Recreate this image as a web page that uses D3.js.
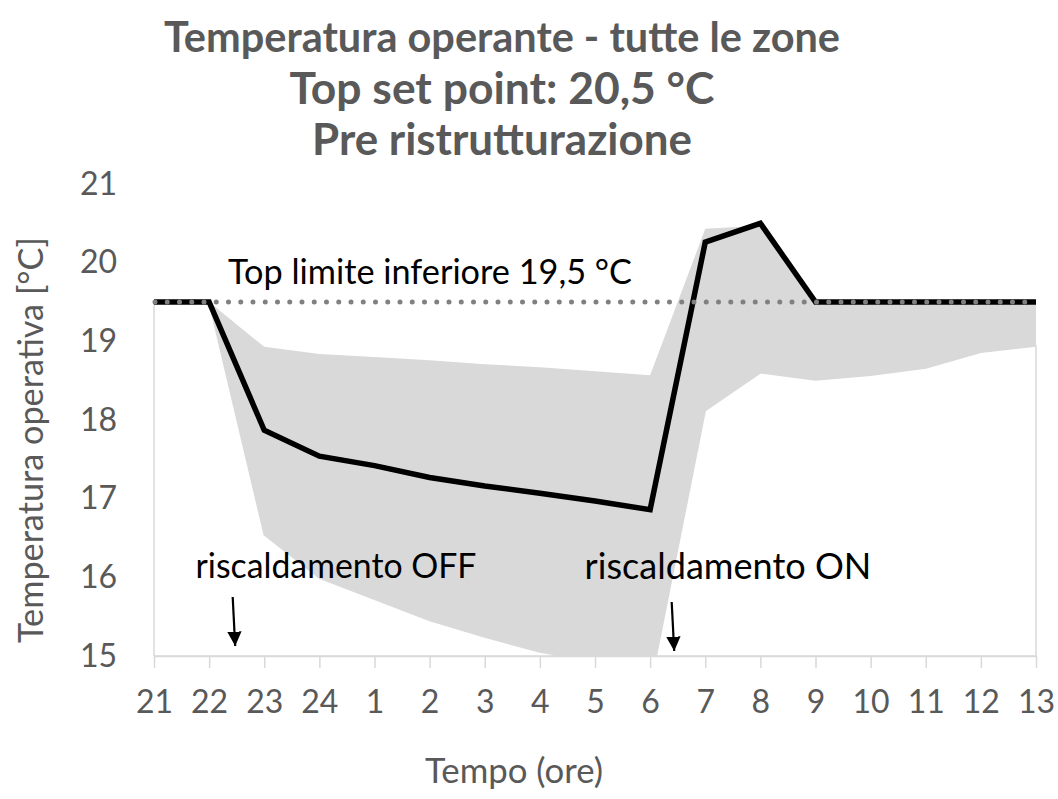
<!DOCTYPE html>
<html>
<head>
<meta charset="utf-8">
<script src="https://cdn.jsdelivr.net/npm/d3@7"></script>
<style>
  html, body { margin: 0; padding: 0; background: #fff; }
  svg { display: block; font-family: Lato, "Open Sans", sans-serif; }
</style>
</head>
<body>
<svg id="chart" width="1058" height="799"></svg>
<script>
// Hours of the night-day cycle shown on the x axis
const hours = ["21","22","23","24","1","2","3","4","5","6","7","8","9","10","11","12","13"];
// Mean operative temperature over all zones [°C]
const meanTemp = [19.5,19.5,17.87,17.54,17.42,17.27,17.16,17.07,16.97,16.86,20.26,20.5,19.5,19.5,19.5,19.5,19.5];
// Upper envelope (warmest zone) [°C]
const maxTemp = [19.5,19.5,18.93,18.84,18.80,18.76,18.71,18.67,18.62,18.57,20.43,20.47,19.5,19.5,19.5,19.5,19.5];
// Lower envelope (coldest zone) [°C]
const minTemp = [19.5,19.5,16.54,15.99,15.72,15.45,15.24,15.05,14.93,14.60,18.12,18.60,18.51,18.57,18.66,18.86,18.94];
// Y axis ticks
const yTicks = [15,16,17,18,19,20,21];
// Lower limit of the operative temperature
const lowerLimit = 19.5;
// Heating schedule annotations
const heatingEvents = [
  {label: "riscaldamento OFF", between: ["22","23"]},
  {label: "riscaldamento ON",  between: ["6","7"]}
];
const titleLines = ["Temperatura operante - tutte le zone", "Top set point: 20,5 °C", "Pre ristrutturazione"];

const svg = d3.select("#chart");
const plotLeft = 154, plotRight = 1036, plotTop = 184, plotBottom = 656;

const x = d3.scalePoint().domain(hours).range([plotLeft, plotRight]);
const y = d3.scaleLinear().domain([15, 21]).range([plotBottom, plotTop]);

const data = hours.map((h, i) => ({h, mean: meanTemp[i], max: maxTemp[i], min: minTemp[i]}));

const defs = svg.append("defs");
defs.append("clipPath").attr("id", "plot")
  .append("rect").attr("x", plotLeft - 2).attr("y", plotTop - 10)
  .attr("width", plotRight - plotLeft + 4).attr("height", plotBottom - plotTop + 10);

const plot = svg.append("g").attr("clip-path", "url(#plot)");

// Envelope: grey area up to the warmest zone, white area up to the coldest zone
plot.append("path").datum(data)
  .attr("fill", "#d9d9d9")
  .attr("d", d3.area().x(d => x(d.h)).y0(y(15)).y1(d => y(d.max)));
plot.append("path").datum(data)
  .attr("fill", "#ffffff").attr("stroke", "#d9d9d9").attr("stroke-width", 1.5)
  .attr("d", d3.area().x(d => x(d.h)).y0(y(15)).y1(d => y(d.min)));

// X axis
const xAxis = svg.append("g").attr("transform", `translate(0,${plotBottom})`)
  .call(d3.axisBottom(x).tickSizeInner(12).tickSizeOuter(0).tickPadding(22));
xAxis.select(".domain").attr("stroke", "#d9d9d9").attr("stroke-width", 1.5);
xAxis.selectAll(".tick line").attr("stroke", "#d9d9d9").attr("stroke-width", 1.5);
xAxis.selectAll(".tick text").attr("fill", "#595959").attr("font-size", 32)
  .attr("font-family", "Lato, sans-serif").attr("dy", "0.71em");

// Y axis labels
const yAxis = svg.append("g").attr("transform", `translate(${plotLeft},0)`)
  .call(d3.axisLeft(y).tickValues(yTicks).tickSize(0).tickPadding(37).tickFormat(d3.format("d")));
yAxis.select(".domain").remove();
yAxis.selectAll(".tick text").attr("fill", "#595959").attr("font-size", 32)
  .attr("font-family", "Lato, sans-serif");

// Mean temperature line
plot.append("path").datum(data)
  .attr("fill", "none").attr("stroke", "#000").attr("stroke-width", 5.5)
  .attr("stroke-linejoin", "miter")
  .attr("d", d3.line().x(d => x(d.h)).y(d => y(d.mean)));

// Lower limit dotted line
plot.append("line")
  .attr("x1", x(hours[0]) + 1).attr("x2", x(hours[hours.length - 1]))
  .attr("y1", y(lowerLimit)).attr("y2", y(lowerLimit))
  .attr("stroke", "#808080").attr("stroke-width", 5)
  .attr("stroke-linecap", "round").attr("stroke-dasharray", "0 12.25");

// Text helper: scales font size so the text spans the given width
function fit(sel, width) {
  const w = sel.node().getComputedTextLength();
  const fs = parseFloat(sel.attr("font-size"));
  sel.attr("font-size", (fs * width / w).toFixed(2));
  return sel;
}

// Title
const titleY = [52, 104, 155];
const titleW = [676, 425, 380];
titleLines.forEach((t, i) => {
  const tx = svg.append("text").text(t)
    .attr("x", 502).attr("y", titleY[i])
    .attr("text-anchor", "middle").attr("font-weight", "bold")
    .attr("font-size", 36).attr("fill", "#595959");
  fit(tx, titleW[i]);
});

// Axis titles
fit(svg.append("text").text("Tempo (ore)")
  .attr("x", 514).attr("y", 771).attr("dy", "0.35em")
  .attr("text-anchor", "middle").attr("font-size", 30).attr("fill", "#595959"), 178);
fit(svg.append("text").text("Temperatura operativa [°C]")
  .attr("transform", "translate(43,440) rotate(-90)")
  .attr("text-anchor", "middle").attr("font-size", 30).attr("fill", "#595959"), 406);

// Lower limit label
fit(svg.append("text").text("Top limite inferiore " + String(lowerLimit).replace(".", ",") + " °C")
  .attr("x", 430).attr("y", 272).attr("dy", "0.35em")
  .attr("text-anchor", "middle").attr("font-size", 30).attr("fill", "#000"), 404);

// Heating annotations with arrows
defs.append("marker")
  .attr("id", "arrow").attr("viewBox", "0 0 10 10")
  .attr("refX", 10).attr("refY", 5)
  .attr("markerWidth", 6.5).attr("markerHeight", 6.5)
  .attr("markerUnits", "strokeWidth").attr("orient", "auto")
  .append("path").attr("d", "M0,0 L10,5 L0,10 Z").attr("fill", "#000");

const labelCenters = [336, 728];
const labelWidths = [281, 287];
const arrowShift = [-1.5, -3.5];
const arrowTop = [597, 602];
heatingEvents.forEach((ev, i) => {
  const xm = (x(ev.between[0]) + x(ev.between[1])) / 2 + arrowShift[i];
  fit(svg.append("text").text(ev.label)
    .attr("x", labelCenters[i]).attr("y", 566).attr("dy", "0.35em")
    .attr("text-anchor", "middle").attr("font-size", 30).attr("fill", "#000"), labelWidths[i]);
  svg.append("line")
    .attr("x1", xm - 2.5).attr("y1", arrowTop[i])
    .attr("x2", xm).attr("y2", arrowTop[i] + 49)
    .attr("stroke", "#000").attr("stroke-width", 2.2)
    .attr("marker-end", "url(#arrow)");
});
</script>
</body>
</html>
